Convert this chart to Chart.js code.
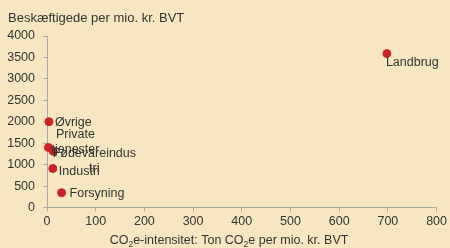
<!DOCTYPE html>
<html>
<head>
<meta charset="utf-8">
<script src="https://cdn.jsdelivr.net/npm/chart.js@4"></script>
<style>
  html, body { margin: 0; padding: 0; background: #f6e7c2; }
  #wrap { width: 450px; height: 248px; }
</style>
</head>
<body>
<div id="wrap"><canvas id="scatter" width="450" height="248"></canvas></div>
<script>
// sectors and values
const sectors = ['Landbrug', 'Øvrige', 'Private tjenester', 'Fødevareindustri', 'Industri', 'Forsyning'];
const co2Intensity = [698, 4, 3, 13, 12, 30];      // ton CO2e per mio. kr. BVT
const employment = [3590, 2000, 1400, 1310, 910, 345]; // beskæftigede per mio. kr. BVT
const xTicks = [0, 100, 200, 300, 400, 500, 600, 700, 800];
const yTicks = [0, 500, 1000, 1500, 2000, 2500, 3000, 3500, 4000];

// how each label is broken and placed next to its point
const labelLines = [['Landbrug'], ['Øvrige'], ['Private', 'tjenester'], ['Fødevareindus', 'tri'], ['Industri'], ['Forsyning']];
const labelPos = [
  { dx: -1, dy: 12, align: 'left' },
  { dx: 6, dy: 4.5, align: 'left' },
  { dx: 27, dy: -9.5, align: 'center' },
  { dx: 41, dy: 5.5, align: 'center' },
  { dx: 6, dy: 7, align: 'left' },
  { dx: 8, dy: 4, align: 'left' }
];

const textColor = '#333333';
const axisColor = '#a9a9a9';
const font = 'Liberation Sans, Arial, sans-serif';

const pointLabels = {
  id: 'pointLabels',
  afterDatasetsDraw(chart) {
    const ctx = chart.ctx;
    const meta = chart.getDatasetMeta(0);
    ctx.save();
    ctx.font = '12.5px ' + font;
    ctx.fillStyle = textColor;
    ctx.textBaseline = 'alphabetic';
    meta.data.forEach((pt, i) => {
      const p = labelPos[i];
      ctx.textAlign = p.align;
      labelLines[i].forEach((line, j) => {
        ctx.fillText(line, pt.x + p.dx, pt.y + p.dy + j * 15);
      });
    });
    ctx.restore();
  }
};

// axis titles, the x one with subscript 2
const axisTitles = {
  id: 'axisTitles',
  afterDraw(chart) {
    const ctx = chart.ctx;
    ctx.save();
    ctx.fillStyle = textColor;
    ctx.textAlign = 'left';
    ctx.textBaseline = 'alphabetic';
    ctx.font = '13px ' + font;
    ctx.fillText('Beskæftigede per mio. kr. BVT', 8, 22);

    const parts = [['CO', false], ['2', true], ['e-intensitet: Ton CO', false], ['2', true], ['e per mio. kr. BVT', false]];
    const big = '12.5px ' + font, small = '8.5px ' + font;
    let w = 0;
    parts.forEach(([t, sub]) => { ctx.font = sub ? small : big; w += ctx.measureText(t).width; });
    let x = 229 - w / 2;
    const base = 244;
    parts.forEach(([t, sub]) => {
      ctx.font = sub ? small : big;
      ctx.fillText(t, x, sub ? base + 3 : base);
      x += ctx.measureText(t).width;
    });
    ctx.restore();
  }
};

new Chart(document.getElementById('scatter'), {
  type: 'scatter',
  data: {
    datasets: [{
      label: 'Sektorer',
      data: co2Intensity.map((v, i) => ({ x: v, y: employment[i] })),
      backgroundColor: '#cc2229',
      borderColor: '#cc2229',
      pointRadius: 4,
      pointHoverRadius: 4,
      clip: false
    }]
  },
  options: {
    responsive: false,
    animation: false,
    layout: { padding: { left: 0, right: 12.5, top: 36, bottom: 0 } },
    plugins: { legend: { display: false }, tooltip: { enabled: false } },
    scales: {
      x: {
        type: 'linear',
        min: xTicks[0],
        max: xTicks[xTicks.length - 1],
        afterBuildTicks: s => { s.ticks = xTicks.map(v => ({ value: v })); },
        afterFit: s => { s.height = 40.5; },
        grid: { drawOnChartArea: false, drawTicks: true, tickLength: 4, color: axisColor },
        border: { color: axisColor },
        ticks: { color: textColor, font: { family: font, size: 12.5 }, padding: 3, maxRotation: 0, callback: v => String(v) }
      },
      y: {
        type: 'linear',
        min: yTicks[0],
        max: yTicks[yTicks.length - 1],
        afterBuildTicks: s => { s.ticks = yTicks.map(v => ({ value: v })); },
        afterFit: s => { s.width = 47; },
        grid: { drawOnChartArea: false, drawTicks: true, tickLength: 4, color: axisColor },
        border: { color: axisColor },
        ticks: { color: textColor, font: { family: font, size: 12.5 }, padding: 8, callback: v => String(v) }
      }
    }
  },
  plugins: [pointLabels, axisTitles]
});
</script>
</body>
</html>
